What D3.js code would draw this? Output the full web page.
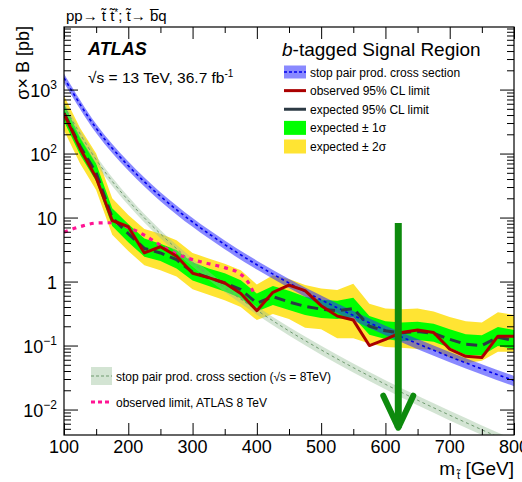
<!DOCTYPE html>
<html><head><meta charset="utf-8">
<script src="https://cdn.jsdelivr.net/npm/d3@7"></script>
<style>
body{margin:0;background:#fff}
svg{display:block;font-family:"Liberation Sans",Arial,Helvetica,sans-serif}
</style></head><body>
<svg id="chart" width="522" height="482"></svg>
<script>
// Stop mass points of the limit scan [GeV]
const massPoints = [100,125,150,175,200,225,250,275,300,325,350,375,400,425,450,475,500,525,550,575,600,625,650,675,700,725,750,775,800];
// 95% CL upper limits on sigma x B [pb]
const observedLimit = [420,120,42,9.0,7.2,2.8,3.5,2.5,1.35,1.15,0.95,0.65,0.35,0.68,0.88,0.72,0.42,0.29,0.25,0.10,0.125,0.16,0.175,0.16,0.088,0.068,0.065,0.14,0.14];
const expectedLimit = [430,130,50,10,5.6,3.3,2.8,2.2,1.4,1.15,0.95,0.75,0.46,0.58,0.48,0.41,0.37,0.35,0.38,0.20,0.17,0.158,0.165,0.155,0.125,0.105,0.10,0.135,0.12];
const expected1SigmaUp = [600,180,70,14,7.9,4.7,3.9,3.1,2.0,1.6,1.35,1.05,0.65,0.85,0.72,0.58,0.52,0.50,0.56,0.29,0.24,0.23,0.235,0.22,0.18,0.15,0.145,0.195,0.175];
const expected1SigmaDown = [320,96,37,7.4,4.1,2.45,2.1,1.6,1.04,0.85,0.70,0.55,0.34,0.43,0.36,0.30,0.27,0.26,0.28,0.148,0.126,0.117,0.122,0.115,0.092,0.072,0.070,0.098,0.088];
const expected2SigmaUp = [800,250,100,20,11,6.6,5.6,4.4,2.8,2.3,1.9,1.5,0.9,1.25,1.1,0.88,0.78,0.74,0.92,0.45,0.38,0.37,0.38,0.34,0.28,0.24,0.23,0.33,0.30];
const expected2SigmaDown = [230,70,27,5.4,3.0,1.8,1.5,1.2,0.76,0.62,0.51,0.40,0.25,0.31,0.26,0.19,0.18,0.13,0.13,0.108,0.095,0.092,0.088,0.085,0.065,0.053,0.058,0.08,0.08];

// Stop pair production cross sections [pb] with relative uncertainties
const theoryMass = [100,150,200,250,300,350,400,450,500,550,600,650,700,750,800];
const stopXsec13TeV = [1520,249,64.5,21.5,8.52,3.79,1.83,0.948,0.518,0.296,0.175,0.107,0.0670,0.0431,0.0283];
const stopXsec13TeVUnc = [0.16,0.16,0.16,0.16,0.16,0.16,0.16,0.16,0.17,0.17,0.17,0.18,0.18,0.18,0.18];
const stopXsec8TeV = [560,80.3,18.5,5.57,2.00,0.807,0.357,0.169,0.0856,0.0452,0.0248,0.0140,0.00815,0.00483,0.00289];
const stopXsec8TeVUnc = [0.15,0.15,0.15,0.15,0.15,0.15,0.15,0.15,0.16,0.16,0.16,0.17,0.17,0.17,0.17];

// Previous ATLAS 8 TeV observed limit [pb]
const atlas8TeVMass = [100,125,150,175,200,225,250,275,300,325,350,375,390,397];
const atlas8TeVLimit = [5.9,7.2,8.2,8.3,7.0,5.3,3.7,2.7,2.2,1.9,1.65,1.3,0.85,0.6];

// Axis ticks
const xMajorTicks = [100,200,300,400,500,600,700,800];
const xMinorTicks = [150,250,350,450,550,650,750];
const yDecadeExponents = [-2,-1,0,1,2,3];

// Exclusion arrow (mass, start and end in pb)
const arrowMass = 620, arrowFrom = 8.2, arrowTo = 0.0052;

const NBSP = "\u00a0";
const STOP = "t\u0303";      // t with tilde
const ANTI_B = "b\u0305";    // b with overline
const W = 522, H = 482;
const margin = {left: 64, right: 8, top: 27, bottom: 47};
const svg = d3.select("#chart");
const x = d3.scaleLinear().domain([100, 800]).range([margin.left, W - margin.right]);
const y = d3.scaleLog().domain([0.004, 9500]).range([H - margin.bottom, margin.top]);
const x0 = x.range()[0], x1 = x.range()[1], yB = y.range()[0], yT = y.range()[1];

const clip = svg.append("defs").append("clipPath").attr("id", "plot-clip");
clip.append("rect").attr("x", x0).attr("y", yT).attr("width", x1 - x0).attr("height", yB - yT);
const plot = svg.append("g").attr("clip-path", "url(#plot-clip)");

const limitRows = massPoints.map((m, i) => ({
  m, obs: observedLimit[i], exp: expectedLimit[i],
  u1: expected1SigmaUp[i], d1: expected1SigmaDown[i],
  u2: expected2SigmaUp[i], d2: expected2SigmaDown[i]
}));
const xs13Rows = theoryMass.map((m, i) => ({m, v: stopXsec13TeV[i], u: stopXsec13TeVUnc[i]}));
const xs8Rows = theoryMass.map((m, i) => ({m, v: stopXsec8TeV[i], u: stopXsec8TeVUnc[i]}));

const band = (lo, hi, curve) => d3.area().x(d => x(d.m)).y0(d => y(lo(d))).y1(d => y(hi(d))).curve(curve);
const line = (f, curve) => d3.line().x(d => x(d.m)).y(d => y(f(d))).curve(curve);

// Expected limit bands
plot.append("path").datum(limitRows).attr("fill", "#ffe433")
  .attr("d", band(d => d.d2, d => d.u2, d3.curveLinear));
plot.append("path").datum(limitRows).attr("fill", "#00ff00")
  .attr("d", band(d => d.d1, d => d.u1, d3.curveLinear));

// 8 TeV theory band
plot.append("path").datum(xs8Rows).attr("fill", "rgba(150,190,150,0.42)")
  .attr("d", band(d => d.v * (1 - d.u), d => d.v * (1 + d.u), d3.curveMonotoneX));
plot.append("path").datum(xs8Rows).attr("fill", "none").attr("stroke", "#6f9a6f")
  .attr("stroke-width", 1).attr("stroke-dasharray", "3,3")
  .attr("d", line(d => d.v, d3.curveMonotoneX));

// 13 TeV theory band
plot.append("path").datum(xs13Rows).attr("fill", "rgba(40,40,255,0.55)")
  .attr("d", band(d => d.v * (1 - d.u), d => d.v * (1 + d.u), d3.curveMonotoneX));
plot.append("path").datum(xs13Rows).attr("fill", "none").attr("stroke", "#0000ee")
  .attr("stroke-width", 1.6).attr("stroke-dasharray", "3,3")
  .attr("d", line(d => d.v, d3.curveMonotoneX));

// ATLAS 8 TeV observed limit
plot.append("path").datum(atlas8TeVMass.map((m, i) => ({m, v: atlas8TeVLimit[i]})))
  .attr("fill", "none").attr("stroke", "#ff1493").attr("stroke-width", 3.2)
  .attr("stroke-dasharray", "4,5")
  .attr("d", line(d => d.v, d3.curveMonotoneX));

// Expected and observed limits
plot.append("path").datum(limitRows).attr("fill", "none").attr("stroke", "#2c3a44")
  .attr("stroke-width", 3).attr("stroke-dasharray", "11,6")
  .attr("d", line(d => d.exp, d3.curveLinear));
plot.append("path").datum(limitRows).attr("fill", "none").attr("stroke", "#aa0000")
  .attr("stroke-width", 3).attr("stroke-linejoin", "round")
  .attr("d", line(d => d.obs, d3.curveLinear));

// Exclusion arrow
const arrowG = svg.append("g").attr("stroke", "#0d8a0d").attr("stroke-linecap", "round").attr("fill", "none");
arrowG.append("line").attr("x1", x(arrowMass)).attr("x2", x(arrowMass))
  .attr("y1", y(arrowFrom)).attr("y2", y(arrowTo)).attr("stroke-width", 7).attr("stroke-linecap", "butt");
arrowG.append("path").attr("stroke-width", 6).attr("stroke-linejoin", "round")
  .attr("d", `M${x(arrowMass) - 15},${y(arrowTo) - 32}L${x(arrowMass)},${y(arrowTo)}L${x(arrowMass) + 15},${y(arrowTo) - 32}`);

// Axes with inward ticks on all four sides
const yMinor = [];
yDecadeExponents.concat([-3]).forEach(e => {
  for (let k = 2; k <= 9; k++) {
    const v = k * Math.pow(10, e);
    if (v > y.domain()[0] && v < y.domain()[1]) yMinor.push(v);
  }
});
const yMajor = yDecadeExponents.map(e => Math.pow(10, e));

function drawAxis(axisFn, tr, ticks, size) {
  const g = svg.append("g").attr("transform", tr)
    .call(axisFn.tickValues(ticks).tickSizeInner(-size).tickSizeOuter(0).tickFormat(""));
  g.select(".domain").remove();
  g.selectAll("line").attr("stroke", "#000").attr("stroke-width", 1);
  return g;
}
drawAxis(d3.axisBottom(x), `translate(0,${yB})`, xMajorTicks, 12);
drawAxis(d3.axisBottom(x), `translate(0,${yB})`, xMinorTicks, 6);
drawAxis(d3.axisTop(x), `translate(0,${yT})`, xMajorTicks, 12);
drawAxis(d3.axisTop(x), `translate(0,${yT})`, xMinorTicks, 6);
drawAxis(d3.axisLeft(y), `translate(${x0},0)`, yMajor, 14);
drawAxis(d3.axisLeft(y), `translate(${x0},0)`, yMinor, 7);
drawAxis(d3.axisRight(y), `translate(${x1},0)`, yMajor, 14);
drawAxis(d3.axisRight(y), `translate(${x1},0)`, yMinor, 7);

svg.append("rect").attr("x", x0).attr("y", yT).attr("width", x1 - x0).attr("height", yB - yT)
  .attr("fill", "none").attr("stroke", "#000").attr("stroke-width", 1.2);

// Tick labels
svg.append("g").selectAll("text").data(xMajorTicks).join("text")
  .attr("x", d => x(d)).attr("y", yB + 18).attr("text-anchor", "middle")
  .attr("font-size", 18).text(d => d);

const yLab = svg.append("g").selectAll("text").data(yDecadeExponents).join("text")
  .attr("x", x0 - 7).attr("y", d => y(Math.pow(10, d)) + 7).attr("text-anchor", "end").attr("font-size", 18);
yLab.each(function(e) {
  const t = d3.select(this);
  if (e === 0) t.text("1");
  else if (e === 1) t.text("10");
  else {
    t.append("tspan").text("10");
    t.append("tspan").attr("font-size", 12).attr("dy", -8).text(e < 0 ? "\u2212" + (-e) : e);
  }
});

// Axis titles
svg.append("text").attr("transform", `translate(29,${yT - 1}) rotate(-90)`).attr("text-anchor", "end")
  .attr("font-size", 18).text("\u03c3\u00d7 B [pb]");

const xTitle = svg.append("text").attr("x", x1).attr("y", 475).attr("text-anchor", "end").attr("font-size", 19);
xTitle.append("tspan").text("m");
xTitle.append("tspan").attr("font-size", 11).attr("dx", 2).attr("dy", 4).text(STOP);
xTitle.append("tspan").attr("dy", -4).text(NBSP + "[GeV]");

// Process label above the frame
const proc = svg.append("text").attr("x", 66).attr("y", 21).attr("font-size", 15);
proc.append("tspan").text("pp\u2192 " + STOP + " " + STOP);
proc.append("tspan").attr("font-size", 10).attr("dy", -5).text("*");
proc.append("tspan").attr("dy", 5).text("; " + STOP + "\u2192 " + ANTI_B + "q");

// Experiment label
svg.append("text").attr("x", 88).attr("y", 55).attr("font-size", 18).attr("font-weight", "bold")
  .attr("font-style", "italic").text("ATLAS");
const ecm = svg.append("text").attr("x", 88).attr("y", 83).attr("font-size", 15.5);
ecm.append("tspan").text("\u221as = 13 TeV, 36.7 fb");
ecm.append("tspan").attr("font-size", 10).attr("dy", -6).text("-1");

// Legend
const lg = svg.append("g");
const title = lg.append("text").attr("x", 282).attr("y", 56).attr("font-size", 19);
title.append("tspan").attr("font-style", "italic").text("b");
title.append("tspan").text("-tagged Signal Region");

const legendRows = [
  {label: "stop pair prod. cross section", kind: "xs13"},
  {label: "observed 95% CL limit", kind: "obs"},
  {label: "expected 95% CL limit", kind: "exp"},
  {label: "expected \u00b1 1\u03c3", kind: "s1"},
  {label: "expected \u00b1 2\u03c3", kind: "s2"}
];
const rowY = d3.scaleLinear().domain([0, 4]).range([72, 146.5]);
legendRows.forEach((r, i) => {
  const cy = rowY(i);
  if (r.kind === "xs13") {
    lg.append("rect").attr("x", 284).attr("y", cy - 6.5).attr("width", 22).attr("height", 13).attr("fill", "rgba(40,40,255,0.55)");
    lg.append("line").attr("x1", 284).attr("x2", 306).attr("y1", cy).attr("y2", cy)
      .attr("stroke", "#0000ee").attr("stroke-width", 1.6).attr("stroke-dasharray", "3,2");
  } else if (r.kind === "obs" || r.kind === "exp") {
    lg.append("line").attr("x1", 284).attr("x2", 306).attr("y1", cy).attr("y2", cy)
      .attr("stroke", r.kind === "obs" ? "#aa0000" : "#2c3a44").attr("stroke-width", 3);
  } else {
    lg.append("rect").attr("x", 284).attr("y", cy - 7).attr("width", 22).attr("height", 14)
      .attr("fill", r.kind === "s1" ? "#00ff00" : "#ffe433");
  }
  lg.append("text").attr("x", 310).attr("y", cy + 4.5).attr("font-size", 12).text(r.label);
});

// Lower legend
const lg2 = svg.append("g");
lg2.append("rect").attr("x", 91).attr("y", 367).attr("width", 21).attr("height", 18).attr("fill", "rgba(150,190,150,0.42)");
lg2.append("line").attr("x1", 91).attr("x2", 112).attr("y1", 376).attr("y2", 376)
  .attr("stroke", "#6f9a6f").attr("stroke-dasharray", "3,2");
lg2.append("text").attr("x", 116).attr("y", 380.5).attr("font-size", 12)
  .text("stop pair prod. cross section (\u221as = 8TeV)");
lg2.append("line").attr("x1", 91).attr("x2", 112).attr("y1", 402).attr("y2", 402)
  .attr("stroke", "#ff1493").attr("stroke-width", 3.2).attr("stroke-dasharray", "4,3");
lg2.append("text").attr("x", 116).attr("y", 406.5).attr("font-size", 12).text("observed limit, ATLAS 8 TeV");
</script>
</body></html>
